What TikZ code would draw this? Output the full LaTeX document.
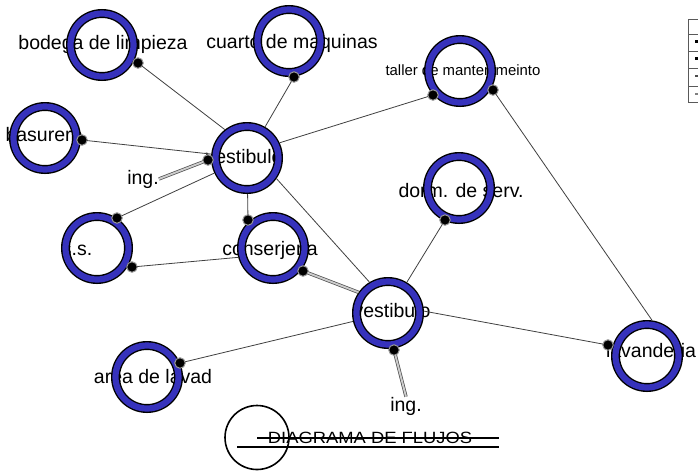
\documentclass[tikz,border=0pt]{standalone}
\usepackage{fontspec}
\setmainfont{Liberation Sans}
\definecolor{ringblue}{RGB}{54,50,188}
\begin{document}
\begin{tikzpicture}[x=1pt,y=-1pt,
  lbl/.style={font=\fontsize{19.5}{22}\selectfont, inner sep=0pt, anchor=base, text=black},
  ring/.style={circle, minimum size=63pt, inner sep=0pt, outer sep=4.6pt, draw=black, line width=1.4pt, double=ringblue, double distance=6.2pt},
  dotnode/.style={circle, fill=black, draw=black!40, line width=1pt, minimum size=10.5pt, inner sep=0pt, outer sep=0pt},
  link/.style={draw=black!75, line width=0.8pt},
  dlink/.style={draw=black!70, line width=0.7pt, double=black!20, double distance=1.9pt},
]
\useasboundingbox (0,0) rectangle (698,475);
\fill[white] (0,0) rectangle (698,475);

% labels (behind the rings)
\node[lbl] (lb) at (103,49) {bodega de limpieza};
\node[lbl] (lc) at (292,48) {cuarto de maquinas};
\node[lbl, font=\fontsize{14.9}{17}\selectfont] (lt) at (463,75) {taller de mantenimeinto};
\node[lbl] (lbas) at (44,141) {basurero};
\node[lbl] (lv1) at (244,163) {vestibulo};
\node[lbl] (ing1) at (143,184) {ing.};
\node[lbl] (ld) at (461,197) {dorm. de serv.};
\node[lbl] (ls) at (77,255) {s.s.};
\node[lbl] (lcon) at (270,255) {conserjeria};
\node[lbl] (lv2) at (392,317) {vestibulo};
\node[lbl] (ll) at (651,357) {lavanderia};
\node[lbl] (la) at (153,383) {area de lavad};
\node[lbl] (ing2) at (406,411) {ing.};

% rings
\node[ring] (rb) at (102,45) {};
\node[ring] (rc) at (289,41) {};
\node[ring] (rt) at (460,71) {};
\node[ring] (rbas) at (45,138) {};
\node[ring] (rv1) at (247,158) {};
\node[ring] (rd) at (459,188) {};
\node[ring] (rs) at (97,248) {};
\node[ring] (rcon) at (273,248) {};
\node[ring] (rv2) at (388,313) {};
\node[ring] (ra) at (147,377) {};
\node[ring] (rl) at (647,356) {};

% connection dots
\node[dotnode] (db) at (138,63) {};
\node[dotnode] (dc) at (294,77) {};
\node[dotnode] (dbas) at (82,140) {};
\node[dotnode] (dv1) at (208,160) {};
\node[dotnode] (dt1) at (433,95) {};
\node[dotnode] (dt2) at (493,90) {};
\node[dotnode] (dd) at (445,220) {};
\node[dotnode] (ds1) at (117,218) {};
\node[dotnode] (ds2) at (132,267) {};
\node[dotnode] (dcon1) at (248,220) {};
\node[dotnode] (dcon2) at (303,271) {};
\node[dotnode] (da) at (180,363) {};
\node[dotnode] (dl) at (608,345) {};
\node[dotnode] (dv2) at (394,350) {};

% connectors
\draw[link] (db) -- (rv1.128);
\draw[link] (dc) -- (rv1);
\draw[link] (dbas) -- (rv1);
\draw[dlink] (ing1.east) -- (dv1);
\draw[link] (rv1.25) -- (dt1);
\draw[link] (rv1) -- (ds1);
\draw[link] (rv1) -- (dcon1);
\draw[link] (rv1.-35) -- (rv2.121);
\draw[link] (ds2) -- (rcon.195);
\draw[dlink] (dcon2) -- (rv2.145);
\draw[link] (rv2) -- (dd);
\draw[link] (dt2) -- (rl.82);
\draw[link] (rv2.3) -- (dl);
\draw[link] (rv2) -- (da);
\draw[dlink] (dv2) -- (ing2.north);

% title
\draw[black, line width=1.6pt] (257,437.5) circle (32);
\node[lbl, font=\fontsize{16.3}{18}\selectfont, xscale=1.127] (title) at (370,443) {DIAGRAMA DE FLUJOS};
\draw[black, line width=2.8pt] (257,438) -- (499,438);
\draw[black, line width=2.8pt] (237,447) -- (499,447);

% table fragment at the top right
\draw[black!65, line width=0.9pt] (699,19) -- (688,19) -- (688,102) -- (699,102);
\foreach \yy in {34,51,68,86} \draw[black!65, line width=0.9pt] (688,\yy) -- (699,\yy);
\fill[black] (695,40) rectangle (698,43);
\fill[black] (695,57) rectangle (698,60);
\fill[black!70] (695,75) rectangle (698,77);
\fill[black!50] (695,93) rectangle (698,95);
\end{tikzpicture}
\end{document}
